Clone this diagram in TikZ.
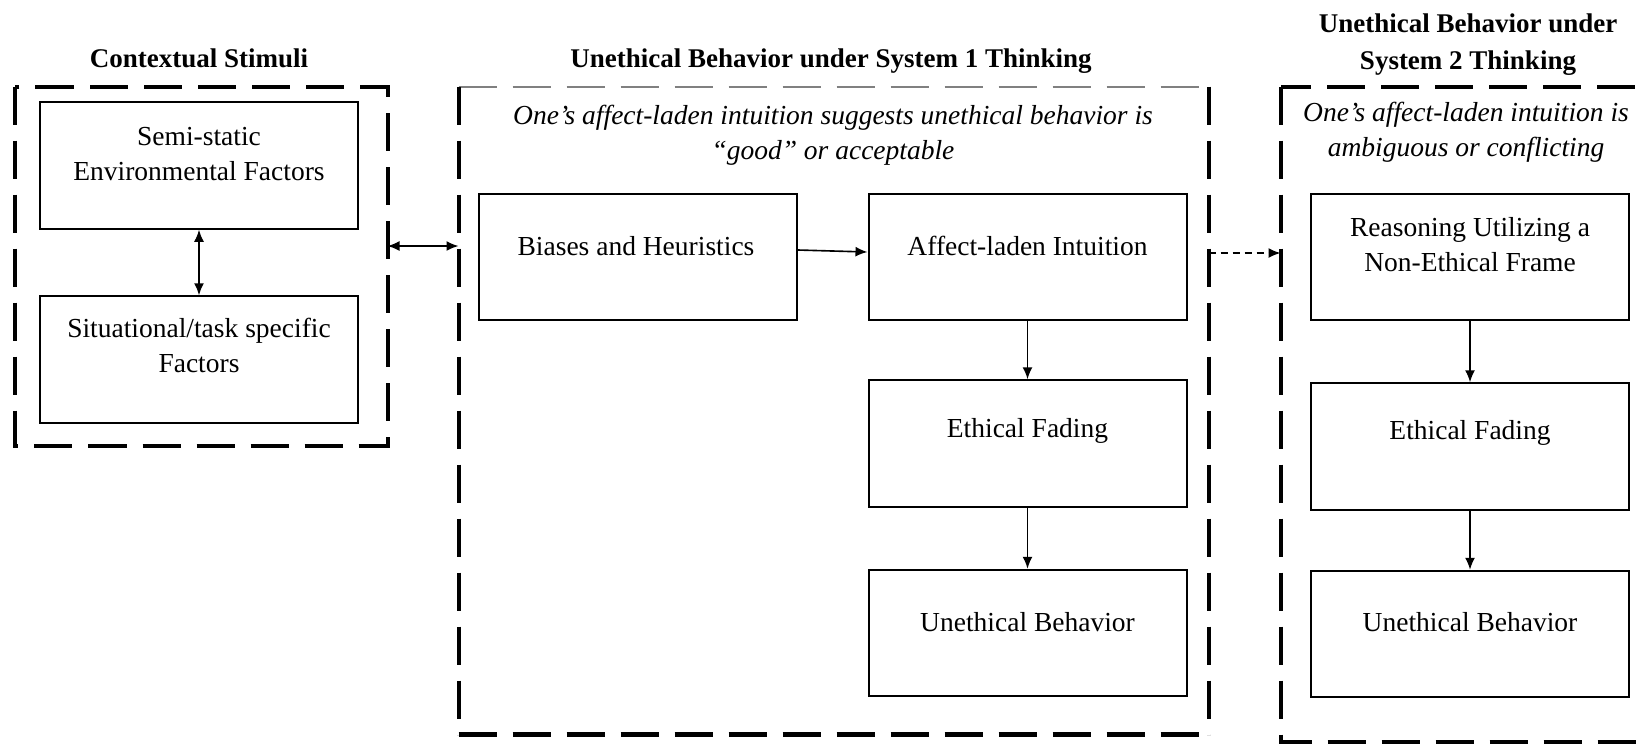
\documentclass[tikz,border=0pt]{standalone}
\usepackage{fontspec}
\setmainfont{Liberation Serif}
\usetikzlibrary{arrows.meta}
\begin{document}
\begin{tikzpicture}[x=0.4pt,y=-0.4pt,
  every node/.style={inner sep=0pt},
  stepbox/.style={draw, line width=0.8pt, minimum width=127.2pt, minimum height=50.6pt},
  body/.style={align=center, font=\fontsize{11}{14}\selectfont, text depth=0pt},
  note/.style={align=center, font=\fontsize{11}{14}\selectfont\itshape, text depth=0pt},
  head/.style={align=center, font=\fontsize{10.8}{14.6}\selectfont\bfseries, text depth=0pt},
  bigdash/.style={line width=1.6pt, dash pattern=on 15.2pt off 6.4pt},
  arr/.style={line width=0.65pt, -{Latex[length=4.8pt,width=4pt]}},
  darr/.style={line width=0.65pt, {Latex[length=4.8pt,width=4pt]}-{Latex[length=4.8pt,width=4pt]}},
  dasharr/.style={line width=0.65pt, dash pattern=on 2.8pt off 2pt, -{Latex[length=4.8pt,width=4pt]}},
]
\clip (0,0) rectangle (1644,743);
\fill[white] (0,0) rectangle (1644,743);

% frames
\node[minimum width=148.4pt, minimum height=143.2pt] (lframe) at (201.5,266) {};
\draw[bigdash] (lframe.north west) rectangle (lframe.south east);

\node[minimum width=299.6pt, minimum height=258.8pt] (mframe) at (833.5,410.5) {};
\draw[gray, line width=0.8pt, dash pattern=on 15.2pt off 6.4pt] (mframe.north west) -- (mframe.north east);
\draw[bigdash] (mframe.north west) -- (mframe.south west);
\draw[bigdash] (mframe.north east) -- (mframe.south east);
\draw[bigdash, line width=2pt] (mframe.south west) -- (mframe.south east);

\node[minimum width=175.6pt, minimum height=261.6pt] (rframe) at (1500.5,414) {};
\draw[bigdash] (rframe.north west) rectangle (rframe.south east);

% titles
\node[head] (t1) at (199,58) {Contextual Stimuli};
\node[head] (t2) at (831,58) {Unethical Behavior under System 1 Thinking};
\node[head] (t3) at (1468,41.5) {Unethical Behavior under\\System 2 Thinking};

% notes
\node[note] (n2) at (833,132.5) {One’s affect-laden intuition suggests unethical behavior is\\“good” or acceptable};
\node[note] (n3) at (1466,129.5) {One’s affect-laden intuition is\\ambiguous or conflicting};

% boxes
\node[stepbox] (semi) at (199,165.5) {};
\node[stepbox] (sit) at (199,359.5) {};
\node[stepbox] (biases) at (638,257) {};
\node[stepbox] (affect) at (1027.5,257) {};
\node[stepbox] (efmid) at (1027.5,443.5) {};
\node[stepbox] (ubmid) at (1027.5,633) {};
\node[stepbox] (reason) at (1470,257) {};
\node[stepbox] (efr) at (1470,446.5) {};
\node[stepbox] (ubr) at (1470,634) {};

% box texts
\node[body] (semit) at (199,153.5) {Semi-static\\Environmental Factors};
\node[body] (sitt) at (199,345.5) {Situational/task specific\\Factors};
\node[body] (biasest) at (636,246) {Biases and Heuristics};
\node[body] (affectt) at (1027.5,246) {Affect-laden Intuition};
\node[body] (efmidt) at (1027.5,428) {Ethical Fading};
\node[body] (ubmidt) at (1027.5,622) {Unethical Behavior};
\node[body] (reasont) at (1470,244) {Reasoning Utilizing a\\Non-Ethical Frame};
\node[body] (efrt) at (1470,430) {Ethical Fading};
\node[body] (ubrt) at (1470,622) {Unethical Behavior};

% connectors
\coordinate (yA) at (0,246);
\coordinate (yB) at (0,253);
\draw[darr] (semi.south) -- (sit.north);
\draw[darr] (lframe.east |- yA) -- (mframe.west |- yA);
\draw[arr] ([yshift=2.8pt]biases.east) -- ([yshift=2pt]affect.west);
\draw[arr] (affect.south) -- (efmid.north);
\draw[arr] (efmid.south) -- (ubmid.north);
\draw[dasharr] (mframe.east |- yB) -- (rframe.west |- yB);
\draw[arr] (reason.south) -- (efr.north);
\draw[arr] (efr.south) -- (ubr.north);
\end{tikzpicture}
\end{document}
